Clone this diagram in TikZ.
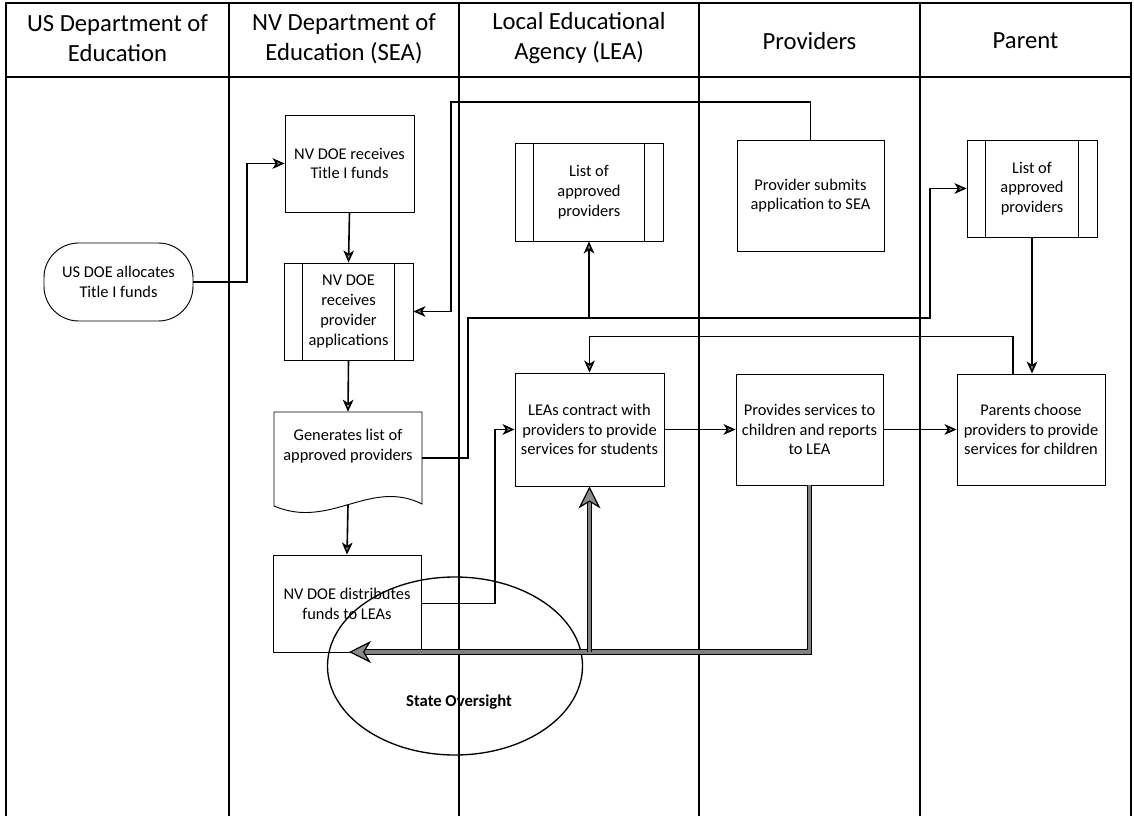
\documentclass[tikz,border=0pt]{standalone}
\usepackage{fontspec}
\setmainfont{Carlito}
\usetikzlibrary{arrows.meta,shapes.geometric,calc}
\begin{document}
\begin{tikzpicture}[x=0.75pt,y=-0.75pt,
  lane/.style={line width=1pt, draw=black},
  hdr/.style={font=\fontsize{18.5}{22.5}\selectfont, align=center, inner sep=0pt},
  box/.style={draw=black, line width=0.7pt, fill=white, align=center, font=\fontsize{12.3}{14.8}\selectfont, inner sep=0pt},
  term/.style={box, rounded corners=26pt},
  conn/.style={line width=1.2pt, draw=black, -{Stealth[length=9pt,width=8pt,inset=2.5pt,fill=black!40]}},
  thickc/.style={draw=black, line width=0.9pt, double=black!50, double distance=2.4pt},
  thickarr/.style={thickc, -{Stealth[length=16.5pt,width=16.5pt,inset=5pt,fill=black!45]}},
  inner/.style={line width=0.7pt, draw=black},
]
\useasboundingbox (0,0) rectangle (1134,816);
% swimlanes
\draw[lane] (6,816) -- (6,3) -- (1131,3) -- (1131,816);
\draw[lane] (6,77) -- (1131,77);
\foreach \x in {229,459,699,920} \draw[lane] (\x,3) -- (\x,816);
% headers
\node[hdr] (h1) at (117.5,38.5) {US Department of\\Education};
\node[hdr] (h2) at (344,38.5) {NV Department of\\Education (SEA)};
\node[hdr] (h3) at (579,38.5) {Local Educational\\Agency (LEA)};
\node[hdr] (h4) at (809.5,41) {Providers};
\node[hdr] (h5) at (1025.5,41) {Parent};
% nodes
\node[term, minimum width=111.75pt, minimum height=58.5pt] (us) at (118.5,282) {US DOE allocates\\Title I funds};
\node[box, minimum width=96.75pt, minimum height=72.75pt] (r1) at (349.5,163.5) {NV DOE receives\\Title I funds};
\node[box, minimum width=96.75pt, minimum height=72.75pt] (r2) at (348.5,311.5) {NV DOE\\receives\\provider\\applications};
\draw[line width=0.7pt, fill=white] (274,412) -- (422,412) -- (422,504) .. controls (370,478) and (330,530) .. (274,506) -- cycle;
\node[align=center, font=\fontsize{12.3}{14.8}\selectfont, inner sep=0pt, minimum width=111pt, minimum height=51pt] (doc) at (348,446) {Generates list of\\approved providers};
\coordinate (docb) at (348,505);
\node[box, minimum width=111pt, minimum height=72.75pt] (r4) at (347,603.5) {NV DOE distributes\\funds to LEAs};
\node[box, minimum width=111pt, minimum height=73.5pt] (lealist) at (589,192) {List of\\approved\\providers};
\node[box, minimum width=111.75pt, minimum height=84.75pt] (leac) at (589.5,429.5) {LEAs contract with\\providers to provide\\services for students};
\node[box, minimum width=110.25pt, minimum height=83.25pt] (psub) at (810.5,195.5) {Provider submits\\application to SEA};
\node[box, minimum width=110.25pt, minimum height=83.25pt] (pserv) at (809.5,429.5) {Provides services to\\children and reports\\to LEA};
\node[box, minimum width=97.5pt, minimum height=72.75pt] (parlist) at (1032,188.5) {List of\\approved\\providers};
\node[box, minimum width=111pt, minimum height=83.25pt] (parch) at (1031,429.5) {Parents choose\\providers to provide\\services for children};
% process side bars
\foreach \n in {r2,lealist,parlist} {
  \draw[inner] ([xshift=14.25pt]\n.north west) -- ([xshift=14.25pt]\n.south west);
  \draw[inner] ([xshift=-14.25pt]\n.north east) -- ([xshift=-14.25pt]\n.south east);
}
% connectors
\draw[conn] (us.east) -- (247,282) |- (r1.west);
\draw[conn] (r1.south) -- (r2.north);
\draw[conn] (psub.north) |- (451,102) |- (r2.east);
\draw[conn] (r2.south) -- (doc.north);
\draw[conn] ([yshift=-9pt]doc.east) -| (468,318) -| (lealist.south);
\draw[conn] ([yshift=-9pt]doc.east) -| (468,318) -| (930,188.5) -- (parlist.west);
\draw[conn] (docb) -- (r4.north);
\draw[conn] (r4.east) -- (495,603.5) |- (leac.west);
\draw[conn] (leac.east) -- (pserv.west);
\draw[conn] (pserv.east) -- (parch.west);
\draw[conn] (parlist.south) -- (parlist.south |- parch.north);
\draw[conn] ([xshift=-13.5pt]parch.north) |- ([yshift=27pt]leac.north) -- (leac.north);
% state oversight
\node[draw, ellipse, line width=1pt, minimum width=191.25pt, minimum height=133.5pt, inner sep=0pt] (so) at (455,666) {};
\node[font=\bfseries\fontsize{12.5}{14}\selectfont, inner sep=0pt] (sot) at (459,702) {State Oversight};
\coordinate (j) at (589.5,652);
\coordinate (soin) at (349,652);
\draw[thickarr] (pserv.south) |- (j) -- (soin);
\draw[thickarr] (j) -- (leac.south);
\end{tikzpicture}
\end{document}
